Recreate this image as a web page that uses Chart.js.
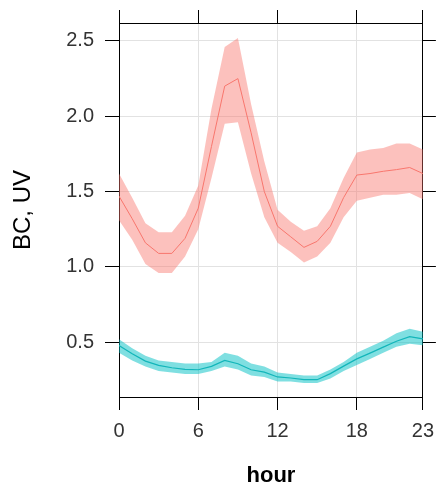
<!DOCTYPE html>
<html>
<head>
<meta charset="utf-8">
<script src="https://cdn.jsdelivr.net/npm/chart.js@4.4.1/dist/chart.umd.min.js"></script>
<style>
  html, body { margin: 0; padding: 0; background: #fff; }
  #wrap { width: 443px; height: 492px; }
</style>
</head>
<body>
<div id="wrap"><canvas id="chart"></canvas></div>
<script>
// hour of day
const hours = [0, 1, 2, 3, 4, 5, 6, 7, 8, 9, 10, 11, 12, 13, 14, 15, 16, 17, 18, 19, 20, 21, 22, 23];

// BC: mean and confidence band
const bcMean  = [1.47, 1.32, 1.16, 1.09, 1.09, 1.19, 1.39, 1.80, 2.20, 2.25, 1.89, 1.50, 1.27, 1.20, 1.13, 1.17, 1.27, 1.46, 1.61, 1.62, 1.635, 1.646, 1.66, 1.62];
const bcUpper = [1.62, 1.46, 1.29, 1.23, 1.23, 1.34, 1.54, 2.05, 2.46, 2.52, 2.08, 1.70, 1.38, 1.30, 1.24, 1.27, 1.39, 1.59, 1.76, 1.78, 1.79, 1.82, 1.82, 1.78];
const bcLower = [1.31, 1.18, 1.02, 0.96, 0.96, 1.07, 1.25, 1.59, 1.95, 1.96, 1.62, 1.33, 1.16, 1.10, 1.03, 1.07, 1.16, 1.33, 1.44, 1.46, 1.48, 1.48, 1.49, 1.45];

// UV: mean and confidence band
const uvMean  = [0.479, 0.424, 0.375, 0.347, 0.331, 0.320, 0.318, 0.340, 0.380, 0.358, 0.318, 0.302, 0.270, 0.263, 0.252, 0.252, 0.292, 0.342, 0.390, 0.428, 0.468, 0.507, 0.538, 0.523];
const uvUpper = [0.52, 0.46, 0.41, 0.38, 0.37, 0.36, 0.36, 0.37, 0.43, 0.41, 0.36, 0.34, 0.30, 0.29, 0.28, 0.28, 0.32, 0.37, 0.43, 0.47, 0.51, 0.56, 0.59, 0.57];
const uvLower = [0.43, 0.38, 0.34, 0.31, 0.30, 0.29, 0.29, 0.31, 0.34, 0.32, 0.28, 0.27, 0.24, 0.24, 0.23, 0.23, 0.26, 0.31, 0.35, 0.39, 0.43, 0.47, 0.49, 0.48];

const xTicks = [0, 6, 12, 18, 23];
const yTicks = [0.5, 1.0, 1.5, 2.0, 2.5];
const yRange = [0.137, 2.619];

const pts = arr => arr.map((v, i) => ({x: hours[i], y: v}));
const fixTicks = vals => scale => { scale.ticks = vals.map(v => ({value: v})); };
const fixSize = (prop, n) => scale => { scale[prop] = n; };

const RED = '#F8766D';
const CYAN = '#12B6BA';
const FONT = '"Liberation Sans", Arial, sans-serif';

const band = (data, fill, color) => ({
  data: pts(data), fill, backgroundColor: color, borderWidth: 0,
  pointRadius: 0, order: 1
});

const markOnly = {
  drawOnChartArea: false, drawTicks: true, tickLength: 13, tickColor: '#000', color: '#000'
};

new Chart(document.getElementById('chart'), {
  type: 'line',
  data: {
    datasets: [
      {data: pts(bcMean), borderColor: RED, borderWidth: 1, pointRadius: 0, fill: false, order: 0},
      {data: pts(uvMean), borderColor: CYAN, borderWidth: 1.2, pointRadius: 0, fill: false, order: 0},
      band(bcUpper, '+1', 'rgba(248,118,109,0.45)'),
      band(bcLower, false, 'rgba(0,0,0,0)'),
      band(uvUpper, '+1', 'rgba(0,191,196,0.5)'),
      band(uvLower, false, 'rgba(0,0,0,0)'),
    ]
  },
  options: {
    responsive: true,
    maintainAspectRatio: false,
    animation: false,
    devicePixelRatio: 1,
    layout: {padding: 0},
    plugins: {legend: {display: false}, tooltip: {enabled: false}},
    elements: {line: {tension: 0}},
    scales: {
      x: {
        type: 'linear', position: 'bottom', min: 0, max: 23,
        afterBuildTicks: fixTicks(xTicks),
        afterFit: fixSize('height', 95),
        grid: {color: '#e2e2e2', tickColor: '#000', tickLength: 13},
        border: {color: '#000', width: 1},
        ticks: {color: '#333', font: {family: FONT, size: 20}, padding: 9, maxRotation: 0},
        title: {display: true, text: 'hour', color: '#000',
                font: {family: FONT, size: 22, weight: 'bold'}, padding: {bottom: 3}}
      },
      x2: {
        type: 'linear', position: 'top', min: 0, max: 23,
        afterBuildTicks: fixTicks(xTicks),
        afterFit: fixSize('height', 21),
        grid: markOnly,
        border: {color: '#000', width: 1},
        ticks: {display: false}
      },
      y: {
        type: 'linear', position: 'left', min: yRange[0], max: yRange[1],
        afterBuildTicks: fixTicks(yTicks),
        afterFit: fixSize('width', 119),
        grid: {color: '#e2e2e2', tickColor: '#000', tickLength: 14},
        border: {color: '#000', width: 1},
        ticks: {color: '#333', font: {family: FONT, size: 20}, padding: 11,
                callback: v => v.toFixed(1)},
        title: {display: true, text: 'BC, UV', color: '#000',
                font: {family: FONT, size: 24}, padding: {top: 9}}
      },
      y2: {
        type: 'linear', position: 'right', min: yRange[0], max: yRange[1],
        afterBuildTicks: fixTicks(yTicks),
        afterFit: fixSize('width', 15),
        grid: markOnly,
        border: {color: '#000', width: 1},
        ticks: {display: false}
      }
    }
  }
});
</script>
</body>
</html>
